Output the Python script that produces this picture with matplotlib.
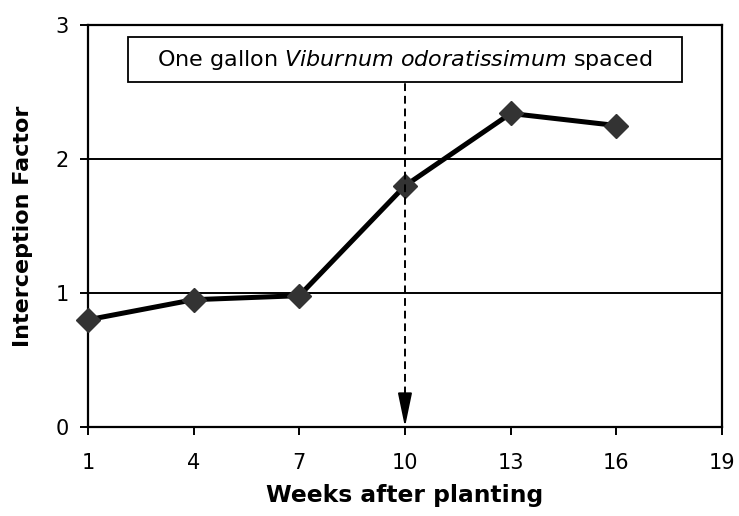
import matplotlib
matplotlib.use("Agg")
import matplotlib.pyplot as plt
from matplotlib.patches import Rectangle

# data
weeks = [1, 4, 7, 10, 13, 16]
factor = [0.80, 0.95, 0.98, 1.80, 2.34, 2.25]
x_ticks = [1, 4, 7, 10, 13, 16, 19]
y_ticks = [0, 1, 2, 3]
spacing_week = 10
note = "One gallon $\\mathit{Viburnum\\ odoratissimum}$ spaced"

fig = plt.figure(figsize=(7.39, 5.16), dpi=100)
ax = fig.add_axes([0.119, 0.1725, 0.858, 0.779])

# horizontal gridlines
for yv in y_ticks[1:]:
    ax.axhline(yv, color="black", lw=1.4, zorder=1)

ax.plot(weeks, factor, color="black", lw=3.6, marker="D", markersize=12.5,
        markerfacecolor="#333333", markeredgecolor="#333333", zorder=3, clip_on=False)

# spacing event: text box + dashed arrow
box_w, box_bot, box_top = 15.73, 2.575, 2.91
ax.add_patch(Rectangle((spacing_week - box_w / 2, box_bot), box_w, box_top - box_bot,
                       facecolor="white", edgecolor="black", lw=1.3, zorder=5))
ax.text(spacing_week, (box_bot + box_top) / 2, note,
        ha="center", va="center", fontsize=16, zorder=6)
ax.plot([spacing_week, spacing_week], [0.15, box_bot], color="black", lw=1.4,
        linestyle=(0, (4, 2.5)), zorder=4)
ax.annotate("", xy=(spacing_week, 0.0), xytext=(spacing_week, 0.2),
            arrowprops=dict(arrowstyle="-|>,head_length=1.3,head_width=0.27",
                            color="black", lw=1.4, mutation_scale=16,
                            shrinkA=0, shrinkB=0),
            zorder=4)

ax.set_xlim(1, 19)
ax.set_ylim(0, 3)
ax.set_xticks(x_ticks)
ax.set_yticks(y_ticks)
ax.tick_params(axis="both", direction="out", length=6, width=1.4, labelsize=15)
ax.tick_params(axis="x", pad=13)
ax.tick_params(axis="y", pad=8)
for s in ax.spines.values():
    s.set_linewidth(1.6)

ax.set_xlabel("Weeks after planting", fontsize=16.8, fontweight="bold", labelpad=8)
ax.set_ylabel("Interception Factor", fontsize=16, fontweight="bold", labelpad=16)

fig.savefig("out.png", dpi=100)
